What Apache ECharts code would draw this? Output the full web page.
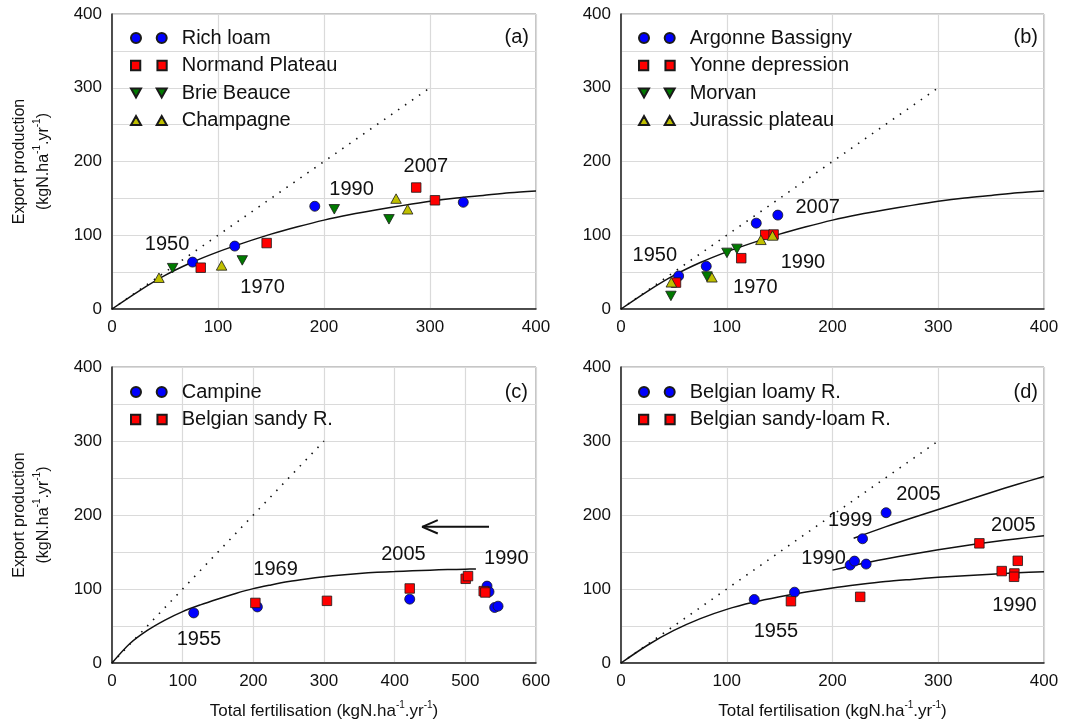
<!DOCTYPE html>
<html>
<head>
<meta charset="utf-8">
<script src="https://cdn.jsdelivr.net/npm/echarts@6/dist/echarts.min.js"></script>
<style>
  html, body { margin: 0; padding: 0; background: #fff; }
  #chart { width: 1068px; height: 726px; }
</style>
</head>
<body>
<div id="chart"></div>
<script>
// ---- Panel (a): northern Paris basin regions ----
const richLoam       = [[76, 63.6], [115.8, 85.3], [191.3, 139.3], [331.4, 144.7]];
const normandPlateau = [[83.7, 56], [145.9, 89.4], [287, 164.7], [304.7, 147.4]];
const brieBeauce     = [[57.2, 55.4], [122.9, 65.9], [209.7, 135.2], [261.3, 121.6]];
const champagne      = [[44.3, 42.4], [103.4, 59.1], [268, 149.7], [278.9, 135.2]];
const yearsA         = [[52, 87.6, '1950'], [142, 28.8, '1970'], [226, 162.4, '1990'], [296, 192.7, '2007']];

// ---- Panel (b): eastern / southern regions ----
const argonneBassigny  = [[54.5, 44.8], [80.6, 58], [127.9, 116.4], [148.3, 127.3]];
const yonneDepression  = [[52, 35.8], [113.7, 68.9], [136.4, 100.6], [144.3, 101]];
const morvan           = [[47.2, 17.7], [81.3, 44], [100.2, 76.1], [109.6, 81.5]];
const jurassicPlateau  = [[47.6, 36.2], [86, 43], [132.3, 93.8], [143.3, 99.7]];
const yearsB           = [[32, 72.5, '1950'], [127, 28.5, '1970'], [172, 62.5, '1990'], [186, 138, '2007']];

// ---- Panel (c): sandy regions ----
const campine          = [[115.6, 67.7], [205.7, 75.8], [421.3, 86.3], [530.7, 103.9], [533.5, 96.2], [541.5, 75], [546.3, 76.8]];
const belgianSandy     = [[202.9, 81.2], [304.2, 84], [421.3, 100.7], [500.5, 113.8], [503.8, 117.4], [526, 97.1], [528.3, 95.3]];
const yearsC           = [[123, 32, '1955'], [231.5, 126.9, '1969'], [412.4, 147, '2005'], [558, 141.3, '1990']];
const arrowShaft       = [[533.5, 184], [439, 184]];
const arrowHead        = [[461, 193], [439, 184], [461, 175]];

// ---- Panel (d): loamy regions ----
const belgianLoamy     = [[126, 85.8], [164.1, 95.7], [216.7, 132.3], [220.8, 137.7], [231.8, 133.7], [228.4, 167.9], [250.7, 203.1]];
const belgianSandyLoam = [[160.7, 83.5], [226.2, 89.4], [338.9, 161.7], [360, 124.2], [372, 121], [371.7, 116.5], [375.2, 138.1]];
const yearsD           = [[146.5, 42, '1955'], [191.5, 141.2, '1990'], [216.7, 192.3, '1999'], [281.3, 228, '2005'], [371, 185.5, '2005'], [372, 77.2, '1990']];

// ---- Yield response curves and 1:1 line ----
const curveAB = [[0, 0], [25, 24], [50, 45.5], [75, 63], [100, 77.5], [125, 90], [150, 101.5], [175, 111.5], [200, 120.5],
                 [225, 128], [250, 134.5], [275, 140.5], [300, 146], [325, 150.5], [350, 154], [375, 157.5], [400, 160]];
const curveC  = [[0, 0], [25, 26], [50, 44], [75, 58], [100, 69.5], [125, 78.5], [150, 86.5], [175, 94], [200, 100.5],
                 [225, 105.5], [250, 110], [275, 113.5], [300, 116.5], [325, 119], [350, 121], [375, 122.5], [400, 123.5],
                 [425, 124.5], [450, 125.5], [475, 126.2], [500, 126.8], [515, 127]];
const curveD1 = [[0, 0], [25, 24], [50, 44], [75, 60], [100, 72.5], [125, 82], [150, 89.5], [175, 96], [200, 101.5],
                 [225, 106], [250, 110], [275, 113], [300, 115.8], [325, 118], [350, 120], [375, 121.8], [400, 123.3]];
const curveD2 = [[200, 125.5], [225, 133.5], [250, 140.5], [275, 147], [300, 153], [325, 158.5], [350, 163.5], [375, 168], [400, 172]];
const curveD3 = [[220, 168.5], [250, 184], [275, 196], [300, 207.5], [325, 219], [350, 230.5], [375, 241.5], [400, 252]];
const oneToOne = [[0, 0], [300, 300]];

const xMax = [400, 400, 600, 400];

const FONT = "'Liberation Sans', Arial, sans-serif";
const INK = '#111111';
const BLUE = '#0000ff', RED = '#ff0000', GREEN = '#007a00', YELLOW = '#c0c000';

const SYM = {
  circle: 'circle',
  square: 'rect',
  down: 'path://M0,0L10,0L5,9Z',
  up: 'path://M5,0L10,9L0,9Z'
};
// legend icons: two markers side by side
const ICON = {
  circle: 'path://M0,5a5,5 0 1,0 10,0a5,5 0 1,0 -10,0M25.7,5a5,5 0 1,0 10,0a5,5 0 1,0 -10,0',
  square: 'path://M0.5,0.5h9v9h-9zM26.2,0.5h9v9h-9z',
  down: 'path://M0,0h10l-5,9zM25.7,0h10l-5,9z',
  up: 'path://M5,0l5,9h-10zM30.7,0l5,9h-10z'
};
const SIZE = { circle: 10, square: 9.5, down: [10.5, 9.5], up: [10.5, 9.5] };

const grids = [
  { left: 112, top: 14, width: 424, height: 295 },
  { left: 621, top: 14, width: 423, height: 295 },
  { left: 112, top: 367, width: 424, height: 296 },
  { left: 621, top: 367, width: 423, height: 296 }
].map(g => Object.assign(g, { show: true, borderColor: '#8c8c8c', borderWidth: 1, containLabel: false }));

const xAxes = xMax.map((mx, i) => ({
  type: 'value', gridIndex: i, min: 0, max: mx, interval: 100,
  axisLine: { show: true, onZero: false, lineStyle: { color: '#222', width: 1.5 } },
  axisTick: { show: false },
  axisLabel: { color: INK, fontSize: 17, fontFamily: FONT, margin: 10 },
  splitLine: { show: true, lineStyle: { color: '#dadada', width: 1.2 } },
  name: i >= 2 ? 'Total fertilisation (kgN.ha{s|-1}.yr{s|-1})' : '',
  nameLocation: 'middle', nameGap: 37,
  nameTextStyle: { fontSize: 17, fontFamily: FONT, color: INK, lineHeight: 22,
    rich: { s: { fontSize: 10, verticalAlign: 'top', lineHeight: 22, fontFamily: FONT, color: INK } } }
}));

const yAxes = [0, 1, 2, 3].map(i => ({
  type: 'value', gridIndex: i, min: 0, max: 400, interval: 50,
  axisLine: { show: true, onZero: false, lineStyle: { color: '#222', width: 1.5 } },
  axisTick: { show: false },
  axisLabel: { color: INK, fontSize: 17, fontFamily: FONT, margin: 10,
    formatter: v => (v % 100 === 0 ? String(v) : '') },
  splitLine: { show: true, lineStyle: { color: '#dadada', width: 1.2 } },
  name: (i % 2 === 0) ? 'Export production\n(kgN.ha{s|-1}.yr{s|-1})' : '',
  nameLocation: 'middle', nameRotate: 90, nameGap: 56,
  nameTextStyle: { fontSize: 16, fontFamily: FONT, color: INK, lineHeight: 24,
    rich: { s: { fontSize: 10, verticalAlign: 'top', lineHeight: 24, fontFamily: FONT, color: INK } } }
}));

function pointSeries(name, data, gi, shape, color) {
  return {
    type: 'scatter', name, data, xAxisIndex: gi, yAxisIndex: gi,
    symbol: SYM[shape], symbolSize: SIZE[shape],
    itemStyle: { color, borderColor: '#1a1a1a', borderWidth: 0.8, opacity: 1 },
    z: 5, silent: true
  };
}
function curveSeries(data, gi, dotted) {
  return {
    type: 'line', data, xAxisIndex: gi, yAxisIndex: gi,
    showSymbol: false, symbol: 'none', smooth: dotted ? false : 0.3,
    lineStyle: dotted ? { color: INK, width: 1.6, type: [1.5, 7] } : { color: INK, width: 1.5 },
    z: 3, silent: true
  };
}
function yearSeries(data, gi) {
  return {
    type: 'scatter', data, xAxisIndex: gi, yAxisIndex: gi,
    symbol: 'circle', symbolSize: 0.1, itemStyle: { color: INK, opacity: 1 },
    label: { show: true, position: 'inside', formatter: p => p.value[2], opacity: 1,
      fontSize: 20, fontFamily: FONT, color: INK },
    z: 6, silent: true
  };
}
function legendFor(names, shapes, left, top) {
  return {
    orient: 'vertical', left, top, padding: 0, itemGap: 7.5,
    itemWidth: 35.7, itemHeight: 10, selectedMode: false,
    textStyle: { fontSize: 20, fontFamily: FONT, color: INK, lineHeight: 20, padding: [0, 0, 0, 10] },
    data: names.map((n, k) => ({ name: n, icon: ICON[shapes[k]] }))
  };
}

const series = [
  // (a)
  curveSeries(oneToOne, 0, true), curveSeries(curveAB, 0, false),
  pointSeries('Rich loam', richLoam, 0, 'circle', BLUE),
  pointSeries('Normand Plateau', normandPlateau, 0, 'square', RED),
  pointSeries('Brie Beauce', brieBeauce, 0, 'down', GREEN),
  pointSeries('Champagne', champagne, 0, 'up', YELLOW),
  yearSeries(yearsA, 0),
  // (b)
  curveSeries(oneToOne, 1, true), curveSeries(curveAB, 1, false),
  pointSeries('Argonne Bassigny', argonneBassigny, 1, 'circle', BLUE),
  pointSeries('Yonne depression', yonneDepression, 1, 'square', RED),
  pointSeries('Morvan', morvan, 1, 'down', GREEN),
  pointSeries('Jurassic plateau', jurassicPlateau, 1, 'up', YELLOW),
  yearSeries(yearsB, 1),
  // (c)
  curveSeries(oneToOne, 2, true), curveSeries(curveC, 2, false),
  pointSeries('Campine', campine, 2, 'circle', BLUE),
  pointSeries('Belgian sandy R.', belgianSandy, 2, 'square', RED),
  yearSeries(yearsC, 2),
  { type: 'line', data: arrowShaft, xAxisIndex: 2, yAxisIndex: 2, symbol: 'none',
    lineStyle: { color: INK, width: 2 }, silent: true, z: 4 },
  { type: 'line', data: arrowHead, xAxisIndex: 2, yAxisIndex: 2, symbol: 'none',
    lineStyle: { color: INK, width: 2 }, silent: true, z: 4 },
  // (d)
  curveSeries(oneToOne, 3, true), curveSeries(curveD1, 3, false),
  curveSeries(curveD2, 3, false), curveSeries(curveD3, 3, false),
  pointSeries('Belgian loamy R.', belgianLoamy, 3, 'circle', BLUE),
  pointSeries('Belgian sandy-loam R.', belgianSandyLoam, 3, 'square', RED),
  yearSeries(yearsD, 3)
];

const panelTag = (text, right, top) => ({
  text, right, top, padding: 0,
  textStyle: { fontSize: 20, fontWeight: 'normal', fontFamily: FONT, color: INK }
});

const chart = echarts.init(document.getElementById('chart'), null, { renderer: 'canvas' });
chart.setOption({
  animation: false,
  backgroundColor: '#ffffff',
  title: [
    panelTag('(a)', 539, 27),
    panelTag('(b)', 30, 27),
    panelTag('(c)', 540, 382),
    panelTag('(d)', 30, 382)
  ],
  legend: [
    legendFor(['Rich loam', 'Normand Plateau', 'Brie Beauce', 'Champagne'], ['circle', 'square', 'down', 'up'], 130, 28),
    legendFor(['Argonne Bassigny', 'Yonne depression', 'Morvan', 'Jurassic plateau'], ['circle', 'square', 'down', 'up'], 638, 28),
    legendFor(['Campine', 'Belgian sandy R.'], ['circle', 'square'], 130, 382),
    legendFor(['Belgian loamy R.', 'Belgian sandy-loam R.'], ['circle', 'square'], 638, 382)
  ],
  grid: grids,
  xAxis: xAxes,
  yAxis: yAxes,
  series
});
</script>
</body>
</html>
